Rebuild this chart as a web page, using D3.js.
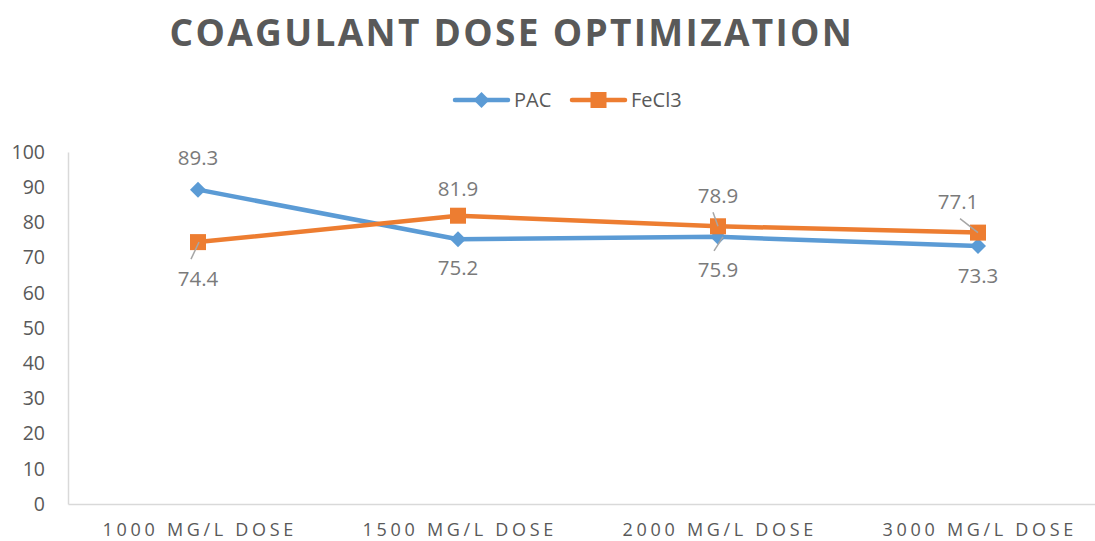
<!DOCTYPE html>
<html><head><meta charset="utf-8">
<script src="https://cdn.jsdelivr.net/npm/d3@7"></script>
<style>body{margin:0;background:#fff}svg{display:block}</style>
</head><body>
<svg id="c" width="1095" height="541"></svg>
<script>
const categories = ["1000 MG/L DOSE","1500 MG/L DOSE","2000 MG/L DOSE","3000 MG/L DOSE"];
const pacValues = [89.3, 75.2, 75.9, 73.3];
const fecl3Values = [74.4, 81.9, 78.9, 77.1];
const yTicks = [0,10,20,30,40,50,60,70,80,90,100];
const seriesNames = ["PAC","FeCl3"];

const svg = d3.select("#c");
const W = 1095, H = 541;
const m = {left:68, right:-13, top:152, bottom:37};
const x = d3.scaleBand().domain(categories).range([m.left, W - m.right]);
const y = d3.scaleLinear().domain([0,100]).range([H - m.bottom, m.top]);
const cx = c => x(c) + x.bandwidth()/2;
const txt = "#595959";
const FF = "Open Sans, sans-serif";

// title
svg.append("text").attr("x",512).attr("y",46).attr("text-anchor","middle")
  .attr("font-family",FF).attr("font-weight","bold")
  .attr("font-size",37).attr("letter-spacing",2.6).attr("fill",txt)
  .attr("textLength",685).attr("lengthAdjust","spacing")
  .text("COAGULANT DOSE OPTIMIZATION");

// axes
const ya = svg.append("g").attr("transform",`translate(${m.left},0)`)
  .call(d3.axisLeft(y).tickValues(yTicks).tickSize(0).tickPadding(23));
ya.select(".domain").attr("stroke","#d9d9d9").attr("stroke-width",1.5);
ya.selectAll("text").attr("font-family",FF).attr("font-size",19.5).attr("fill",txt);

const xa = svg.append("g").attr("transform",`translate(0,${y(0)})`)
  .call(d3.axisBottom(x).tickSize(0).tickPadding(19));
xa.select(".domain").attr("stroke","#d9d9d9").attr("stroke-width",1.5);
xa.selectAll("text").attr("font-family",FF).attr("font-size",18)
  .attr("letter-spacing",3.7).attr("fill",txt).attr("dx",1.8);

const colors = {PAC:"#5B9BD5", FeCl3:"#ED7D31"};
const data = {PAC:pacValues, FeCl3:fecl3Values};
const line = d3.line().x((d,i)=>cx(categories[i])).y(d=>y(d));

["PAC","FeCl3"].forEach(s=>{
  svg.append("path").datum(data[s]).attr("d",line).attr("fill","none")
    .attr("stroke",colors[s]).attr("stroke-width",4.5).attr("stroke-linejoin","round");
});
function marker(g, s, px, py){
  if(s==="PAC"){
    const r = 8;
    g.append("path").attr("d",`M0,${-r}L${r},0L0,${r}L${-r},0Z`)
      .attr("transform",`translate(${px},${py})`).attr("fill",colors[s]);
  } else {
    g.append("rect").attr("x",px-8).attr("y",py-8).attr("width",16).attr("height",16).attr("fill",colors[s]);
  }
}
["PAC","FeCl3"].forEach(s=>{
  data[s].forEach((v,i)=>marker(svg, s, cx(categories[i]), y(v)));
});

// data labels: [dx, dy] offsets from point; leader lines
const labelOffsets = {
  PAC:[[0,-32],[0,29],[0,33],[0,30]],
  FeCl3:[[0,37],[0,-27],[0,-30],[-20,-31]]
};
const leaders = {
  PAC:[null,null,[5,0,-4,14],null],
  FeCl3:[[1,0,-7,17],null,[-5,-14,0,0],[-18,-14,0,0]]
};
["PAC","FeCl3"].forEach(s=>{
  data[s].forEach((v,i)=>{
    const px = cx(categories[i]), py = y(v);
    const L = leaders[s][i];
    if(L){
      svg.append("line").attr("x1",px+L[0]).attr("y1",py+L[1]).attr("x2",px+L[2]).attr("y2",py+L[3])
        .attr("stroke","#a6a6a6").attr("stroke-width",1.5);
    }
    const o = labelOffsets[s][i];
    svg.append("text").attr("x",px+o[0]).attr("y",py+o[1]).attr("dy","0.35em")
      .attr("text-anchor","middle").attr("font-family",FF)
      .attr("font-size",20.5).attr("fill","#7a7a7a").text(v.toFixed(1));
  });
});

// legend
const legendX = [455, 572];
seriesNames.forEach((s,i)=>{
  const g = svg.append("g");
  const lx = legendX[i], ly = 100;
  g.append("line").attr("x1",lx).attr("x2",lx+53).attr("y1",ly).attr("y2",ly)
    .attr("stroke",colors[s]).attr("stroke-width",4.5).attr("stroke-linecap","round");
  marker(g, s, lx+26.5, ly);
  g.append("text").attr("x",lx+59).attr("y",ly).attr("dy","0.35em")
    .attr("font-family",FF).attr("font-size",20).attr("fill",txt).text(s);
});
</script>
</body></html>
